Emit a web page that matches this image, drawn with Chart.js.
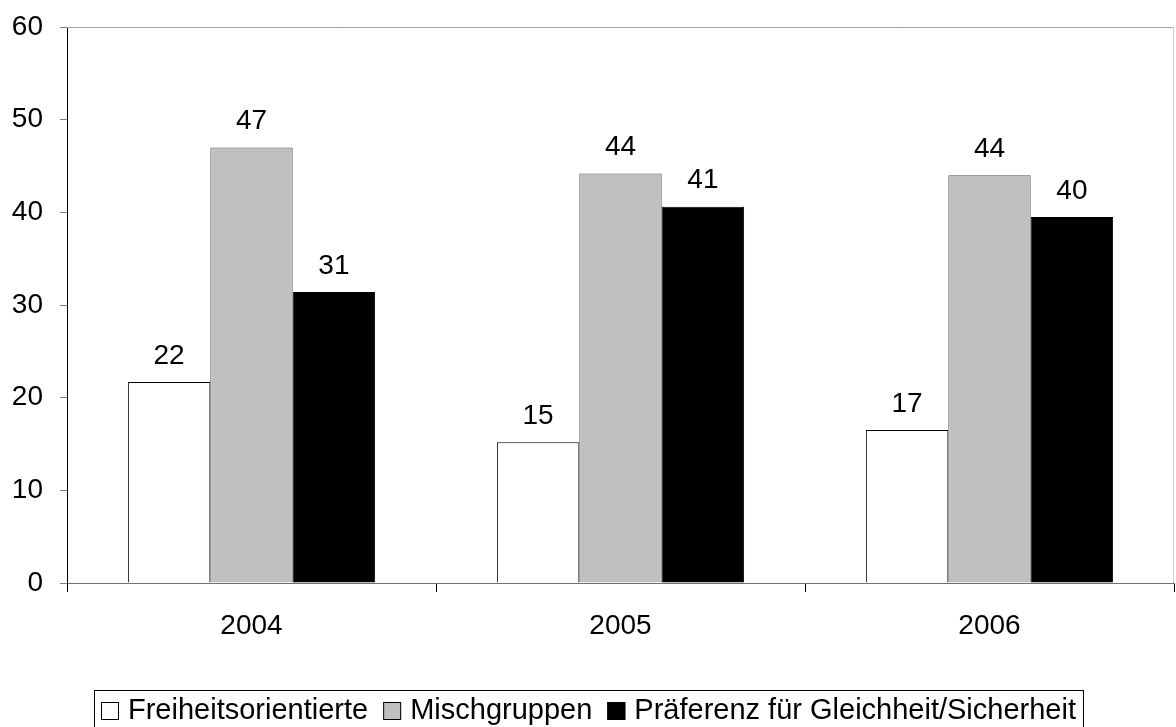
<!DOCTYPE html>
<html>
<head>
<meta charset="utf-8">
<script src="https://cdn.jsdelivr.net/npm/chart.js@4"></script>
<style>
  body { margin: 0; background: #fff; }
  #wrap { width: 1176px; height: 727px; position: relative; }
</style>
</head>
<body>
<div id="wrap"><canvas id="chart"></canvas></div>
<script>
const years = ["2004", "2005", "2006"];
const freiheit = [21.7, 15.2, 16.5];
const misch = [47.0, 44.2, 44.0];
const gleichheit = [31.4, 40.6, 39.5];
const seriesNames = ["Freiheitsorientierte", "Mischgruppen", "Präferenz für Gleichheit/Sicherheit"];
const seriesColors = ["#ffffff", "#c0c0c0", "#000000"];
const yTicks = [0, 10, 20, 30, 40, 50, 60];

const FONT = "'Liberation Sans', Arial, sans-serif";

// value labels above each bar
const barLabels = {
    id: "barLabels",
    afterDatasetsDraw(chart) {
        const ctx = chart.ctx;
        ctx.save();
        ctx.font = "28px " + FONT;
        ctx.fillStyle = "#000";
        ctx.textAlign = "center";
        ctx.textBaseline = "middle";
        chart.data.datasets.forEach((ds, i) => {
            chart.getDatasetMeta(i).data.forEach((bar, j) => {
                ctx.fillText(Math.round(ds.data[j]), bar.x, bar.y - 26);
            });
        });
        ctx.restore();
    }
};

// top/right frame of plot area
const frame = {
    id: "frame",
    beforeDatasetsDraw(chart) {
        const a = chart.chartArea, ctx = chart.ctx;
        ctx.save();
        ctx.lineWidth = 1;
        ctx.strokeStyle = "#a0a0a0";
        ctx.beginPath();
        ctx.moveTo(a.left, a.top + 0.5);
        ctx.lineTo(a.right, a.top + 0.5);
        ctx.stroke();
        ctx.strokeStyle = "#d0d0d0";
        ctx.beginPath();
        ctx.moveTo(a.right - 0.5, a.top);
        ctx.lineTo(a.right - 0.5, a.bottom);
        ctx.stroke();
        ctx.restore();
    }
};

// boxed legend at the bottom
const boxLegend = {
    id: "boxLegend",
    afterDraw(chart) {
        const ctx = chart.ctx;
        ctx.save();
        ctx.font = "29px " + FONT;
        const sq = 18, gapText = 9, gapItem = 15, pad = 7;
        let total = pad * 2;
        const widths = seriesNames.map(n => ctx.measureText(n).width);
        widths.forEach((w, i) => { total += sq + gapText + w + (i < widths.length - 1 ? gapItem : 0); });
        const cx = 588, top = 690, h = 40, cy = top + h / 2 + 1;
        let x = Math.round(cx - total / 2);
        ctx.strokeStyle = "#000";
        ctx.lineWidth = 1;
        ctx.strokeRect(x + 0.5, top + 0.5, total, h);
        x += pad;
        ctx.textBaseline = "middle";
        ctx.textAlign = "left";
        seriesNames.forEach((n, i) => {
            ctx.fillStyle = seriesColors[i];
            ctx.fillRect(x, cy - sq / 2, sq, sq);
            ctx.strokeStyle = "#000";
            ctx.strokeRect(x + 0.5, cy - sq / 2 + 0.5, sq - 1, sq - 1);
            ctx.fillStyle = "#000";
            ctx.fillText(n, x + sq + gapText, cy);
            x += sq + gapText + widths[i] + gapItem;
        });
        ctx.restore();
    }
};

const mkSet = (i, data, border) => ({
    label: seriesNames[i],
    data: data,
    backgroundColor: seriesColors[i],
    borderColor: border,
    borderWidth: 1,
    borderSkipped: "bottom",
    barPercentage: 1.0,
    categoryPercentage: 0.67
});

new Chart(document.getElementById("chart"), {
    type: "bar",
    data: {
        labels: years,
        datasets: [
            mkSet(0, freiheit, "#000"),
            mkSet(1, misch, "#505050"),
            mkSet(2, gleichheit, "#000")
        ]
    },
    options: {
        responsive: true,
        maintainAspectRatio: false,
        animation: false,
        layout: { padding: { top: 27, right: 2, left: 0, bottom: 0 } },
        plugins: {
            legend: { display: false },
            tooltip: { enabled: false }
        },
        scales: {
            x: {
                grid: { offset: true, drawOnChartArea: false, tickLength: 9, color: "#000" },
                border: { color: "#707070" },
                ticks: { font: { size: 28, family: FONT }, color: "#000", padding: 17 },
                afterFit: s => { s.height = 144; s.paddingLeft = 0; s.paddingRight = 0; }
            },
            y: {
                min: 0,
                max: 60,
                afterBuildTicks: s => { s.ticks = yTicks.map(v => ({ value: v })); },
                grid: { drawOnChartArea: false, tickLength: 7, color: "#808080" },
                border: { color: "#000" },
                ticks: { font: { size: 28, family: FONT }, color: "#000", padding: 17 },
                afterFit: s => { s.width = 67; s.paddingTop = 0; s.paddingBottom = 0; }
            }
        }
    },
    plugins: [frame, barLabels, boxLegend]
});
</script>
</body>
</html>
